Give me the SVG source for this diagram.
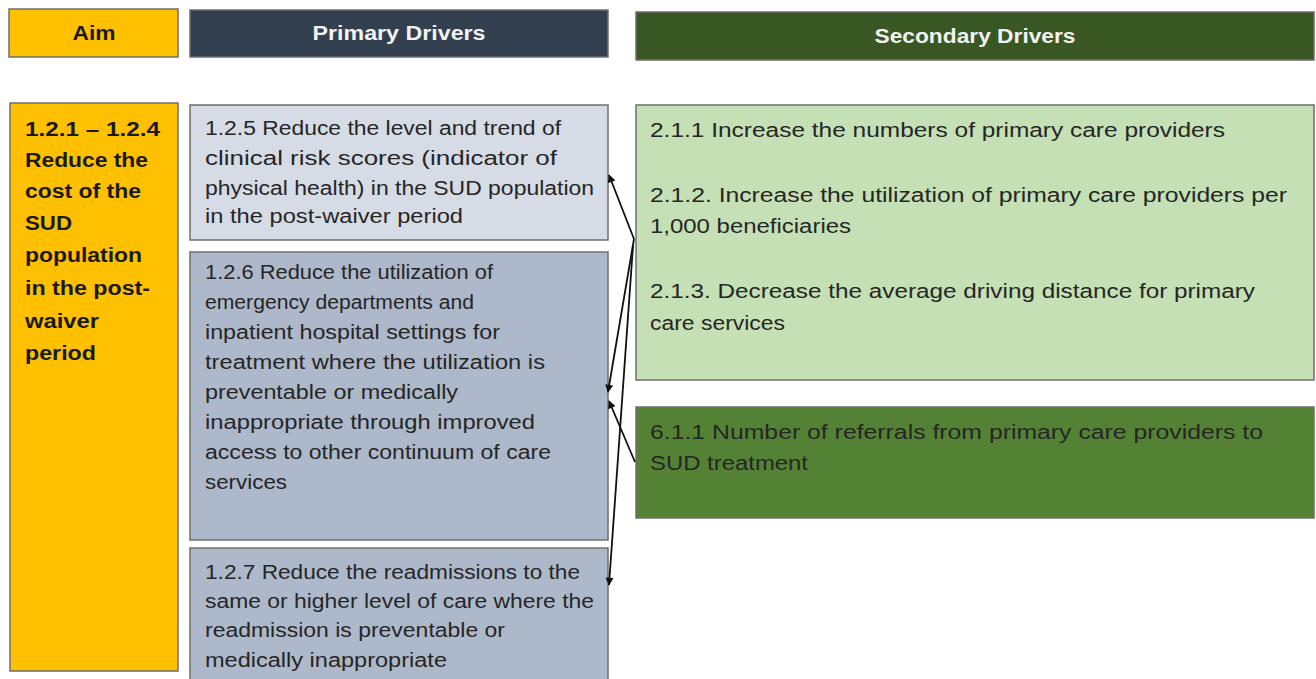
<svg xmlns="http://www.w3.org/2000/svg" width="1316" height="679" viewBox="0 0 1316 679">
<style>
.box{stroke:#6f6f6f;stroke-width:1.5}
.t{font-family:"Liberation Sans",Arial,sans-serif;font-size:20px;fill:#262626}
.b{font-family:"Liberation Sans",Arial,sans-serif;font-size:20px;font-weight:bold;fill:#1a1a1a}
.h{font-family:"Liberation Sans",Arial,sans-serif;font-size:20px;font-weight:bold;text-anchor:middle}
.c{stroke:#111;stroke-width:1.8;fill:none;marker-end:url(#ah)}
</style>
<defs>
<marker id="ah" viewBox="0 0 10 10" refX="9" refY="5" markerWidth="9" markerHeight="8" orient="auto" markerUnits="userSpaceOnUse">
<path d="M0,0 L10,5 L0,10 z" fill="#111"/>
</marker>
</defs>
<rect width="1316" height="679" fill="#fff"/>
<g id="hdr-aim"><rect class="box" x="9" y="9" width="169" height="48" fill="#FFC000" stroke="#333"/><text class="h" x="94" y="40" fill="#1a1a1a" textLength="43" lengthAdjust="spacingAndGlyphs">Aim</text></g>
<g id="hdr-primary"><rect class="box" x="190" y="10" width="418" height="47" fill="#323F4F"/><text class="h" x="399" y="40" fill="#f2f2f2" textLength="173" lengthAdjust="spacingAndGlyphs">Primary Drivers</text></g>
<g id="hdr-secondary"><rect class="box" x="636" y="12" width="678" height="48" fill="#385723"/><text class="h" x="975" y="43" fill="#f2f2f2" textLength="201" lengthAdjust="spacingAndGlyphs">Secondary Drivers</text></g>

<g id="aim">
<rect class="box" x="10" y="103" width="168" height="568" fill="#FFC000"/>
<text class="b" x="25" y="136" textLength="135" lengthAdjust="spacingAndGlyphs">1.2.1 – 1.2.4</text>
<text class="b" x="25" y="167" textLength="123" lengthAdjust="spacingAndGlyphs">Reduce the</text>
<text class="b" x="25" y="198" textLength="116" lengthAdjust="spacingAndGlyphs">cost of the</text>
<text class="b" x="25" y="230" textLength="47" lengthAdjust="spacingAndGlyphs">SUD</text>
<text class="b" x="25" y="262" textLength="117" lengthAdjust="spacingAndGlyphs">population</text>
<text class="b" x="25" y="295" textLength="125" lengthAdjust="spacingAndGlyphs">in the post-</text>
<text class="b" x="25" y="328" textLength="74" lengthAdjust="spacingAndGlyphs">waiver</text>
<text class="b" x="25" y="360" textLength="71" lengthAdjust="spacingAndGlyphs">period</text>
</g>

<g id="p125">
<rect class="box" x="190" y="105" width="418" height="135" fill="#D6DCE5"/>
<text class="t" x="205" y="135" textLength="356" lengthAdjust="spacingAndGlyphs">1.2.5 Reduce the level and trend of</text>
<text class="t" x="205" y="165" textLength="352" lengthAdjust="spacingAndGlyphs">clinical risk scores (indicator of</text>
<text class="t" x="205" y="195" textLength="389" lengthAdjust="spacingAndGlyphs">physical health) in the SUD population</text>
<text class="t" x="205" y="223" textLength="258" lengthAdjust="spacingAndGlyphs">in the post-waiver period</text>
</g>

<g id="p126">
<rect class="box" x="190" y="252" width="418" height="288" fill="#ADB9CA"/>
<text class="t" x="205" y="279" textLength="288" lengthAdjust="spacingAndGlyphs">1.2.6 Reduce the utilization of</text>
<text class="t" x="205" y="309" textLength="269" lengthAdjust="spacingAndGlyphs">emergency departments and</text>
<text class="t" x="205" y="339" textLength="295" lengthAdjust="spacingAndGlyphs">inpatient hospital settings for</text>
<text class="t" x="205" y="369" textLength="340" lengthAdjust="spacingAndGlyphs">treatment where the utilization is</text>
<text class="t" x="205" y="399" textLength="253" lengthAdjust="spacingAndGlyphs">preventable or medically</text>
<text class="t" x="205" y="429" textLength="330" lengthAdjust="spacingAndGlyphs">inappropriate through improved</text>
<text class="t" x="205" y="459" textLength="346" lengthAdjust="spacingAndGlyphs">access to other continuum of care</text>
<text class="t" x="205" y="489" textLength="82" lengthAdjust="spacingAndGlyphs">services</text>
</g>

<g id="p127">
<rect class="box" x="190" y="548" width="418" height="140" fill="#ADB9CA"/>
<text class="t" x="205" y="579" textLength="375" lengthAdjust="spacingAndGlyphs">1.2.7 Reduce the readmissions to the</text>
<text class="t" x="205" y="608" textLength="389" lengthAdjust="spacingAndGlyphs">same or higher level of care where the</text>
<text class="t" x="205" y="637" textLength="300" lengthAdjust="spacingAndGlyphs">readmission is preventable or</text>
<text class="t" x="205" y="667" textLength="242" lengthAdjust="spacingAndGlyphs">medically inappropriate</text>
</g>

<g id="s21">
<rect class="box" x="636" y="105" width="678" height="275" fill="#C5E0B4"/>
<text class="t" x="650" y="137" textLength="575" lengthAdjust="spacingAndGlyphs">2.1.1 Increase the numbers of primary care providers</text>
<text class="t" x="650" y="202" textLength="637" lengthAdjust="spacingAndGlyphs">2.1.2. Increase the utilization of primary care providers per</text>
<text class="t" x="650" y="233" textLength="201" lengthAdjust="spacingAndGlyphs">1,000 beneficiaries</text>
<text class="t" x="650" y="298" textLength="605" lengthAdjust="spacingAndGlyphs">2.1.3. Decrease the average driving distance for primary</text>
<text class="t" x="650" y="330" textLength="135" lengthAdjust="spacingAndGlyphs">care services</text>
</g>

<g id="s611">
<rect class="box" x="636" y="407" width="678" height="111" fill="#548235"/>
<text class="t" x="650" y="439" textLength="613" lengthAdjust="spacingAndGlyphs" fill="#1a1a1a">6.1.1 Number of referrals from primary care providers to</text>
<text class="t" x="650" y="470" textLength="158" lengthAdjust="spacingAndGlyphs" fill="#1a1a1a">SUD treatment</text>
</g>

<g id="connectors">
<line class="c" x1="634" y1="239" x2="609" y2="175"/>
<line class="c" x1="634" y1="239" x2="608" y2="392"/>
<line class="c" x1="633" y1="246" x2="609" y2="585"/>
<line class="c" x1="635" y1="462" x2="609" y2="401"/>
</g>
</svg>
